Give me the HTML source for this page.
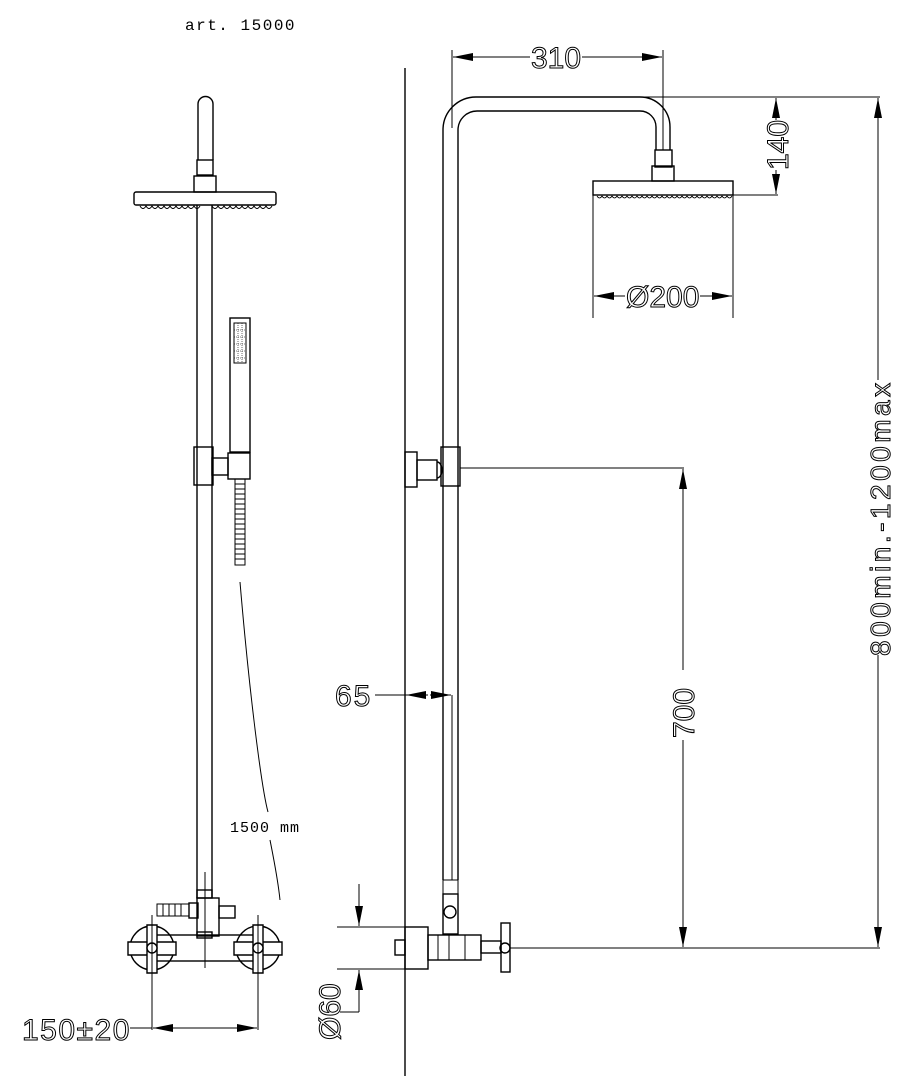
<!DOCTYPE html>
<html><head><meta charset="utf-8"><style>
html,body{margin:0;padding:0;background:#fff;}
svg{display:block;}
text{font-family:"Liberation Sans",sans-serif;}
.t{fill:none;stroke:#000;stroke-width:1;font-size:30px;}
</style></head><body>
<svg width="916" height="1084" viewBox="0 0 916 1084" xmlns="http://www.w3.org/2000/svg">
<defs>
<marker id="a" viewBox="0 0 20 8" refX="20" refY="4" markerWidth="20" markerHeight="8" orient="auto" markerUnits="userSpaceOnUse"><path d="M0,0 L20,4 L0,8 Z" fill="#000"/></marker>
</defs>
<g fill="none" stroke="#000" stroke-width="1.4">
<text x="185" y="30" style="fill:#000;stroke:none;font-size:16px;font-family:'Liberation Mono',monospace;letter-spacing:1.5px">art. 15000</text>

<!-- LEFT VIEW -->
<path d="M198,160 L198,104 A7.5,7.5 0 0 1 213,104 L213,160"/>
<rect x="197" y="160" width="16" height="15"/>
<rect x="194" y="176" width="22" height="16"/>
<rect x="134" y="192" width="142" height="13" rx="2"/>
<path d="M140,206 q3,5 6,0 q3,5 6,0 q3,5 6,0 q3,5 6,0 q3,5 6,0 q3,5 6,0 q3,5 6,0 q3,5 6,0 q3,5 6,0 q3,5 6,0 M212,206 q3,5 6,0 q3,5 6,0 q3,5 6,0 q3,5 6,0 q3,5 6,0 q3,5 6,0 q3,5 6,0 q3,5 6,0 q3,5 6,0 q3,5 6,0" stroke-width="1"/>
<line x1="197" y1="205" x2="197" y2="898"/><line x1="212" y1="205" x2="212" y2="898"/>
<rect x="194" y="447" width="19" height="38"/>
<rect x="212" y="458" width="16" height="17"/>
<rect x="228" y="453" width="22" height="26"/>
<rect x="230" y="318" width="20" height="134"/>
<rect x="234" y="323" width="12" height="40" stroke-width="1"/>
<path d="M234,330 h12 M234,337 h12 M234,344 h12 M234,351 h12 M234,358 h12 M238,323 v40 M242,323 v40" stroke-width="0.6" stroke-dasharray="1,1"/>
<rect x="235" y="479" width="10" height="86" stroke-width="1"/>
<path d="M235,484 h10 M235,489 h10 M235,494 h10 M235,499 h10 M235,504 h10 M235,509 h10 M235,514 h10 M235,519 h10 M235,524 h10 M235,529 h10 M235,534 h10 M235,539 h10 M235,544 h10 M235,549 h10 M235,554 h10 M235,559 h10" stroke-width="1"/>
<path d="M240,582 C250,700 262,790 268,812" stroke-width="1"/>
<path d="M270,840 C274,860 278,880 280,900" stroke-width="1"/>
<text x="230" y="832" style="fill:#000;stroke:none;font-size:15px;font-family:'Liberation Mono',monospace;letter-spacing:1px">1500 mm</text>
<!-- mixer left -->
<rect x="197" y="890" width="15" height="8"/>
<rect x="197" y="898" width="22" height="38"/>
<rect x="197" y="932" width="15" height="6"/>
<rect x="189" y="903" width="9" height="15"/>
<path d="M157,904 h32 v12 h-32 z M163,904 v12 M169,904 v12 M175,904 v12 M181,904 v12" stroke-width="1"/>
<rect x="219" y="906" width="16" height="12"/>
<rect x="153" y="935" width="106" height="26"/>
<circle cx="152" cy="948" r="22"/><circle cx="258" cy="948" r="22"/>
<path d="M128,942 h48 v13 h-48 z" fill="#fff"/><path d="M147,925 h10 v48 h-10 z" fill="#fff"/>
<path d="M234,942 h48 v13 h-48 z" fill="#fff"/><path d="M253,925 h10 v48 h-10 z" fill="#fff"/>
<circle cx="152" cy="948" r="5" fill="#fff"/><circle cx="258" cy="948" r="5" fill="#fff"/>
<line x1="205" y1="872" x2="205" y2="968" stroke-width="1"/>
<line x1="152" y1="915" x2="152" y2="1030" stroke-width="1"/>
<line x1="258" y1="915" x2="258" y2="1030" stroke-width="1"/>
<line x1="205" y1="1028" x2="153" y2="1028" marker-end="url(#a)" stroke-width="1"/>
<line x1="205" y1="1028" x2="257" y2="1028" marker-end="url(#a)" stroke-width="1"/>
<line x1="130" y1="1028" x2="152" y2="1028" stroke-width="1"/>
<text class="t" x="22" y="1040" style="letter-spacing:1.5px">150±20</text>

<!-- RIGHT VIEW -->
<line x1="405" y1="68" x2="405" y2="1076"/>
<path d="M443,880 L443,130 A33,33 0 0 1 476,97 L640,97 A30,30 0 0 1 670,127 L670,150"/>
<path d="M458,880 L458,130 A19,19 0 0 1 477,111 L640,111 A16,16 0 0 1 656,127 L656,150"/>
<rect x="655" y="150" width="17" height="17"/>
<rect x="652" y="166" width="22" height="15"/>
<rect x="593" y="181" width="140" height="14"/>
<path d="M597,196 q2.5,4 5,0 q2.5,4 5,0 q2.5,4 5,0 q2.5,4 5,0 q2.5,4 5,0 q2.5,4 5,0 q2.5,4 5,0 q2.5,4 5,0 q2.5,4 5,0 q2.5,4 5,0 q2.5,4 5,0 q2.5,4 5,0 q2.5,4 5,0 q2.5,4 5,0 q2.5,4 5,0 q2.5,4 5,0 q2.5,4 5,0 q2.5,4 5,0 q2.5,4 5,0 q2.5,4 5,0 q2.5,4 5,0 q2.5,4 5,0 q2.5,4 5,0 q2.5,4 5,0 q2.5,4 5,0 q2.5,4 5,0 q2.5,4 5,0" stroke-width="0.8"/>
<!-- 310 -->
<line x1="452" y1="50" x2="452" y2="128" stroke-width="1"/>
<line x1="663" y1="50" x2="663" y2="150" stroke-width="1"/>
<line x1="530" y1="57" x2="453" y2="57" marker-end="url(#a)" stroke-width="1"/>
<line x1="582" y1="57" x2="662" y2="57" marker-end="url(#a)" stroke-width="1"/>
<text class="t" x="531" y="68">310</text>
<!-- 200 -->
<line x1="593" y1="195" x2="593" y2="318" stroke-width="1"/>
<line x1="733" y1="195" x2="733" y2="318" stroke-width="1"/>
<line x1="625" y1="296" x2="594" y2="296" marker-end="url(#a)" stroke-width="1"/>
<line x1="700" y1="296" x2="732" y2="296" marker-end="url(#a)" stroke-width="1"/>
<text class="t" x="626" y="307">Ø200</text>
<!-- 140 & 800 -->
<line x1="640" y1="97" x2="880" y2="97" stroke-width="1"/>
<line x1="733" y1="195" x2="778" y2="195" stroke-width="1"/>
<line x1="776" y1="120" x2="776" y2="98" marker-end="url(#a)" stroke-width="1"/>
<line x1="776" y1="170" x2="776" y2="194" marker-end="url(#a)" stroke-width="1"/>
<text class="t" transform="translate(788,170) rotate(-90)">140</text>
<line x1="878" y1="380" x2="878" y2="98" marker-end="url(#a)" stroke-width="1"/>
<line x1="878" y1="655" x2="878" y2="947" marker-end="url(#a)" stroke-width="1"/>
<text class="t" style="font-size:28px;letter-spacing:3.5px" transform="translate(890,656) rotate(-90)">800min.-1200max</text>
<!-- 700 -->
<line x1="460" y1="468" x2="684" y2="468" stroke-width="1"/>
<line x1="683" y1="670" x2="683" y2="469" marker-end="url(#a)" stroke-width="1"/>
<line x1="683" y1="740" x2="683" y2="947" marker-end="url(#a)" stroke-width="1"/>
<text class="t" transform="translate(694,738) rotate(-90)">700</text>
<!-- bracket right -->
<rect x="405" y="452" width="12" height="35"/>
<rect x="417" y="460" width="20" height="20"/>
<path d="M437,462 a5,8 0 0 1 0,16"/>
<rect x="441" y="447" width="19" height="39"/>
<!-- 65 -->
<line x1="452" y1="695" x2="452" y2="880" stroke-width="1"/>
<line x1="375" y1="695" x2="427" y2="695" stroke-width="1"/>
<line x1="428" y1="695" x2="406" y2="695" marker-end="url(#a)" stroke-width="1"/>
<line x1="430" y1="695" x2="451" y2="695" marker-end="url(#a)" stroke-width="1"/>
<text class="t" x="335" y="706" style="letter-spacing:2px">65</text>
<!-- mixer right -->
<rect x="443" y="880" width="15" height="14" stroke-width="1"/>
<rect x="443" y="894" width="15" height="40"/>
<circle cx="450" cy="912" r="6"/>
<line x1="337" y1="927" x2="428" y2="927" stroke-width="1"/>
<line x1="337" y1="969" x2="428" y2="969" stroke-width="1"/>
<rect x="405" y="927" width="23" height="42"/>
<rect x="395" y="940" width="10" height="15"/>
<rect x="428" y="935" width="53" height="25"/>
<path d="M438,935 v25 M449,935 v25 M465,935 v25" stroke-width="1"/>
<rect x="481" y="941" width="20" height="12"/>
<rect x="501" y="923" width="9" height="49"/>
<circle cx="505" cy="948" r="5"/>
<line x1="510" y1="948" x2="880" y2="948" stroke-width="1"/>
<line x1="359" y1="884" x2="359" y2="926" marker-end="url(#a)" stroke-width="1"/>
<line x1="359" y1="1012" x2="359" y2="970" marker-end="url(#a)" stroke-width="1"/>
<line x1="359" y1="1012" x2="340" y2="1012" stroke-width="1"/>
<text class="t" transform="translate(340,1040) rotate(-90)">Ø60</text>
</g>
</svg>
</body></html>
